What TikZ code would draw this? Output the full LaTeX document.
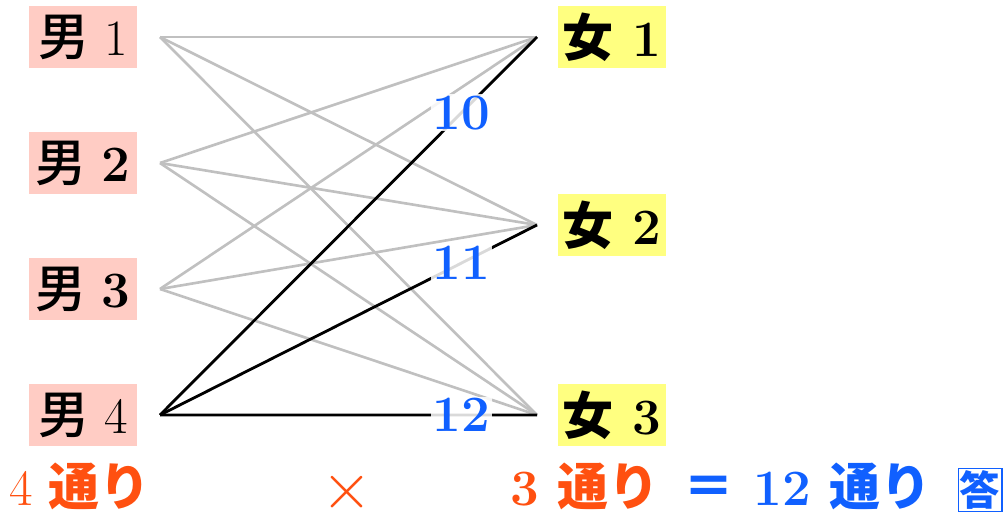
\documentclass[tikz,border=0pt]{standalone}
\usepackage{fontspec}
\newfontfamily\jp{Noto Sans CJK JP}
\newfontfamily\jpm{Noto Sans CJK JP}[UprightFont={* Medium}]
\usepackage{tikz}
\usetikzlibrary{positioning}
\definecolor{boypink}{RGB}{255,204,196}
\definecolor{girlyellow}{RGB}{255,255,128}
\definecolor{ansblue}{RGB}{16,96,255}
\definecolor{cntorange}{RGB}{255,80,16}
\definecolor{edgegray}{RGB}{192,192,192}
\tikzstyle{boy}=[rectangle, fill=boypink, minimum width=2.16cm, minimum height=1.24cm,
        inner sep=0pt, outer xsep=0.46cm, outer ysep=0pt, font=\fontsize{29}{32}\selectfont]
\tikzstyle{girl}=[rectangle, fill=girlyellow, minimum width=2.16cm, minimum height=1.24cm,
        inner sep=0pt, outer xsep=0.42cm, outer ysep=0pt, font=\fontsize{29}{32}\selectfont\bfseries]
\tikzstyle{pair}=[draw=edgegray, line width=1.5pt]
\tikzstyle{chosen}=[draw=black, line width=1.6pt]
\tikzstyle{count}=[fill=white, fill opacity=0.85, text opacity=1, text=ansblue,
        inner sep=1pt, font=\fontsize{29}{32}\selectfont\bfseries]
\tikzstyle{total}=[anchor=base, font=\fontsize{29}{32}\selectfont\bfseries]

\begin{document}
\begin{tikzpicture}[node distance=1.28cm]
\useasboundingbox (0,0) rectangle (20.06,-10.28);

	\node (m1) [boy] at (1.66,-0.74) {{\jpm 男} 1};
	\node (m2) [boy, below=of m1] {{\jpm 男} \textbf{2}};
	\node (m3) [boy, below=of m2] {{\jpm 男} \textbf{3}};
	\node (m4) [boy, below=of m3] {{\jpm 男} 4};

	\node (w1) [girl] at (12.24,-0.74) {{\jp 女} 1};
	\node (w2) [girl] at (12.24,-4.5) {{\jp 女} 2};
	\node (w3) [girl] at (12.24,-8.3) {{\jp 女} 3};

\foreach \i in {1,2,3}
	\foreach \j in {1,2,3}
		\draw[pair] (m\i.east) -- (w\j.west);

\draw[chosen] (m4.east) -- (w1.west) node[count, pos=0.8] {10};
\draw[chosen] (m4.east) -- (w2.west) node[count, pos=0.8] {11};
\draw[chosen] (m4.east) -- (w3.west) node[count, pos=0.8] {12};

	\node (boys) [total, text=cntorange] at (1.6,-10.1) {\mdseries 4 {\jp\bfseries 通り}};
	\node (times) [text=cntorange, inner sep=0pt, scale=1.5,
		font=\fontsize{29}{32}\selectfont] at (6.94,-9.84) {$\times$};
	\node (girls) [total, text=cntorange] at (11.7,-10.1) {\textbf{3} {\jp 通り}};
	\node (result) [total, text=ansblue] at (16.15,-10.1) {{\jp ＝} \textbf{12} {\jp 通り}};
	\node (ans) [draw=ansblue, line width=0.6pt, text=ansblue, inner sep=1pt,
		font=\fontsize{23}{26}\selectfont\bfseries] at (19.6,-9.8) {\jp 答};

\end{tikzpicture}
\end{document}
